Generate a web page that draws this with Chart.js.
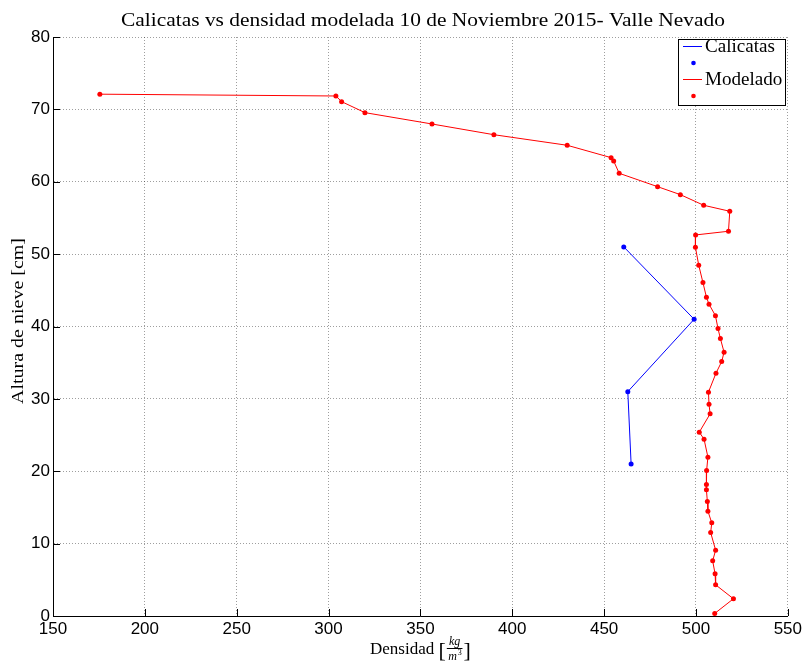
<!DOCTYPE html>
<html>
<head>
<meta charset="utf-8">
<title>Calicatas vs densidad modelada</title>
<script src="https://cdn.jsdelivr.net/npm/chart.js@4/dist/chart.umd.min.js"></script>
<style>
  html, body { margin: 0; padding: 0; background: #fff; }
  canvas { display: block; }
</style>
</head>
<body>
<canvas id="c" width="805" height="663"></canvas>
<script>
// Snow pit (calicatas) measurements: density [kg/m3] vs height [cm]
const calicatasDensidad = [460.7, 499.0, 462.9, 464.7];
const calicatasAltura   = [51.0, 41.0, 31.0, 21.0];

// Modelled density profile
const modeladoDensidad = [175.5, 304.0, 307.1, 319.8, 356.3, 390.0, 429.9, 453.8, 455.2, 458.2,
  479.1, 491.5, 504.2, 518.4, 517.7, 499.8, 499.7, 501.5, 503.8, 505.7,
  507.1, 510.6, 512.0, 513.3, 515.3, 514.0, 510.9, 506.8, 507.1, 507.7,
  501.8, 504.4, 506.5, 505.8, 505.7, 505.7, 506.2, 506.5, 508.6, 508.0,
  510.7, 509.1, 510.4, 510.7, 520.4, 510.2];
const modeladoAltura = [72.1, 71.85, 71.07, 69.55, 67.98, 66.5, 65.04, 63.33, 62.87, 61.17,
  59.32, 58.22, 56.75, 55.92, 53.16, 52.65, 50.95, 48.47, 46.07, 44.05,
  43.08, 41.5, 39.71, 38.33, 36.45, 35.15, 33.55, 30.93, 29.27, 27.93,
  25.4, 24.43, 21.95, 20.1, 18.16, 17.43, 15.82, 14.49, 12.87, 11.53,
  9.1, 7.62, 5.83, 4.31, 2.38, 0.35];

const xTicks = [150, 200, 250, 300, 350, 400, 450, 500, 550];
const yTicks = [0, 10, 20, 30, 40, 50, 60, 70, 80];

const titulo = 'Calicatas vs densidad modelada 10 de Noviembre 2015- Valle Nevado';
const tituloY = 'Altura de nieve [cm]';
const leyenda = [
  { label: 'Calicatas', color: '#0000ff' },
  { label: 'Modelado', color: '#ff0000' }
];

const SERIF = '"Liberation Serif", "DejaVu Serif", serif';
const SANS = '"Liberation Sans", Arial, sans-serif';

function toPoints(xs, ys) { return xs.map((x, i) => ({ x: x, y: ys[i] })); }

// Draws centred text stretched horizontally to a given width
function fillWide(ctx, text, x, y, width) {
  const w = ctx.measureText(text).width;
  ctx.save();
  ctx.translate(x, y);
  ctx.scale(width / w, 1);
  ctx.textAlign = 'center';
  ctx.fillText(text, 0, 0);
  ctx.restore();
}

// Titles, inward tick marks and legend box
const decor = {
  id: 'decor',
  afterDraw(chart) {
    const ctx = chart.ctx;
    const a = chart.chartArea;
    const xs = chart.scales.x, ys = chart.scales.y;
    ctx.save();

    // inward ticks
    ctx.strokeStyle = '#000';
    ctx.lineWidth = 1;
    ctx.beginPath();
    xTicks.forEach(v => {
      const px = Math.round(xs.getPixelForValue(v)) + 0.5;
      ctx.moveTo(px, a.bottom); ctx.lineTo(px, a.bottom - 7);
    });
    yTicks.forEach(v => {
      const py = Math.round(ys.getPixelForValue(v)) + 0.5;
      ctx.moveTo(a.left, py); ctx.lineTo(a.left + 7, py);
    });
    ctx.stroke();

    // title
    ctx.fillStyle = '#000';
    ctx.textBaseline = 'alphabetic';
    ctx.font = '19px ' + SERIF;
    fillWide(ctx, titulo, 423, 26, 604);

    // y axis title
    ctx.save();
    ctx.translate(23, 321);
    ctx.rotate(-Math.PI / 2);
    ctx.font = '17px ' + SERIF;
    fillWide(ctx, tituloY, 0, 0, 166);
    ctx.restore();

    // x axis title: Densidad [kg / m^3]
    const cx = (a.left + a.right) / 2;
    const base = 654;
    ctx.font = '17px ' + SERIF;
    ctx.textAlign = 'left';
    const w1 = ctx.measureText('Densidad ').width;
    ctx.font = 'italic 12px ' + SERIF;
    const wk = ctx.measureText('kg').width;
    const wm = ctx.measureText('m').width + 5;
    const wf = Math.max(wk, wm) + 2;
    ctx.font = '22px ' + SERIF;
    const wb = ctx.measureText('[').width;
    const total = w1 + wb + wf + wb + 2;
    let x0 = cx - total / 2;
    ctx.font = '17px ' + SERIF;
    ctx.fillText('Densidad ', x0, base);
    x0 += w1;
    ctx.font = '22px ' + SERIF;
    ctx.fillText('[', x0, base + 3);
    x0 += wb + 1;
    ctx.textAlign = 'center';
    ctx.font = 'italic 12px ' + SERIF;
    ctx.fillText('kg', x0 + wf / 2, base - 9);
    ctx.beginPath();
    ctx.moveTo(x0, base - 5.5); ctx.lineTo(x0 + wf, base - 5.5);
    ctx.stroke();
    ctx.fillText('m', x0 + wf / 2 - 2, base + 6);
    ctx.font = '8px ' + SERIF;
    ctx.fillText('3', x0 + wf / 2 + 5, base + 1);
    x0 += wf + 1;
    ctx.textAlign = 'left';
    ctx.font = '22px ' + SERIF;
    ctx.fillText(']', x0, base + 3);

    // legend
    const lx = 678.5, ly = 39.5, lw = 107, lh = 66;
    ctx.fillStyle = '#fff';
    ctx.fillRect(lx, ly, lw, lh);
    ctx.strokeStyle = '#000';
    ctx.lineWidth = 1;
    ctx.strokeRect(lx, ly, lw, lh);
    ctx.font = '18px ' + SERIF;
    ctx.textBaseline = 'middle';
    leyenda.forEach((it, i) => {
      const yl = 46 + i * 33;
      ctx.strokeStyle = it.color;
      ctx.beginPath();
      ctx.moveTo(683, yl + 0.5); ctx.lineTo(702, yl + 0.5);
      ctx.stroke();
      ctx.fillStyle = '#000';
      const w = ctx.measureText(it.label).width;
      fillWide(ctx, it.label, 705 + w * 0.53, yl + 1, w * 1.06);
      ctx.fillStyle = it.color;
      ctx.beginPath();
      ctx.arc(693.5, yl + 17, 2.3, 0, Math.PI * 2);
      ctx.fill();
    });
    ctx.restore();
  }
};

new Chart(document.getElementById('c'), {
  type: 'scatter',
  data: {
    datasets: [
      {
        label: 'Calicatas',
        data: toPoints(calicatasDensidad, calicatasAltura),
        showLine: true,
        borderColor: '#0000ff',
        backgroundColor: '#0000ff',
        borderWidth: 1,
        pointRadius: 2.5,
        pointBorderWidth: 0,
        tension: 0
      },
      {
        label: 'Modelado',
        data: toPoints(modeladoDensidad, modeladoAltura),
        showLine: true,
        borderColor: '#ff0000',
        backgroundColor: '#ff0000',
        borderWidth: 1,
        pointRadius: 2.5,
        pointBorderWidth: 0,
        tension: 0
      }
    ]
  },
  options: {
    responsive: false,
    animation: false,
    devicePixelRatio: 1,
    layout: { padding: { left: 0, top: 37, right: 17, bottom: 0 } },
    plugins: { legend: { display: false }, title: { display: false }, tooltip: { enabled: false } },
    scales: {
      x: {
        type: 'linear',
        min: 150, max: 550,
        afterBuildTicks(s) { s.ticks = xTicks.map(v => ({ value: v })); },
        afterFit(s) { s.height = 47; },
        ticks: { color: '#000', font: { family: SANS, size: 17 }, padding: 3, maxRotation: 0 },
        grid: { color: 'rgba(0,0,0,0.38)', lineWidth: 1, drawTicks: false },
        border: { display: true, color: '#000', width: 1, dash: [1, 2] }
      },
      y: {
        type: 'linear',
        min: 0, max: 80,
        afterBuildTicks(s) { s.ticks = yTicks.map(v => ({ value: v })); },
        afterFit(s) { s.width = 53; },
        ticks: { color: '#000', font: { family: SANS, size: 17 }, padding: 3 },
        grid: { color: 'rgba(0,0,0,0.38)', lineWidth: 1, drawTicks: false },
        border: { display: true, color: '#000', width: 1, dash: [1, 2] }
      }
    }
  },
  plugins: [decor]
});
</script>
</body>
</html>
